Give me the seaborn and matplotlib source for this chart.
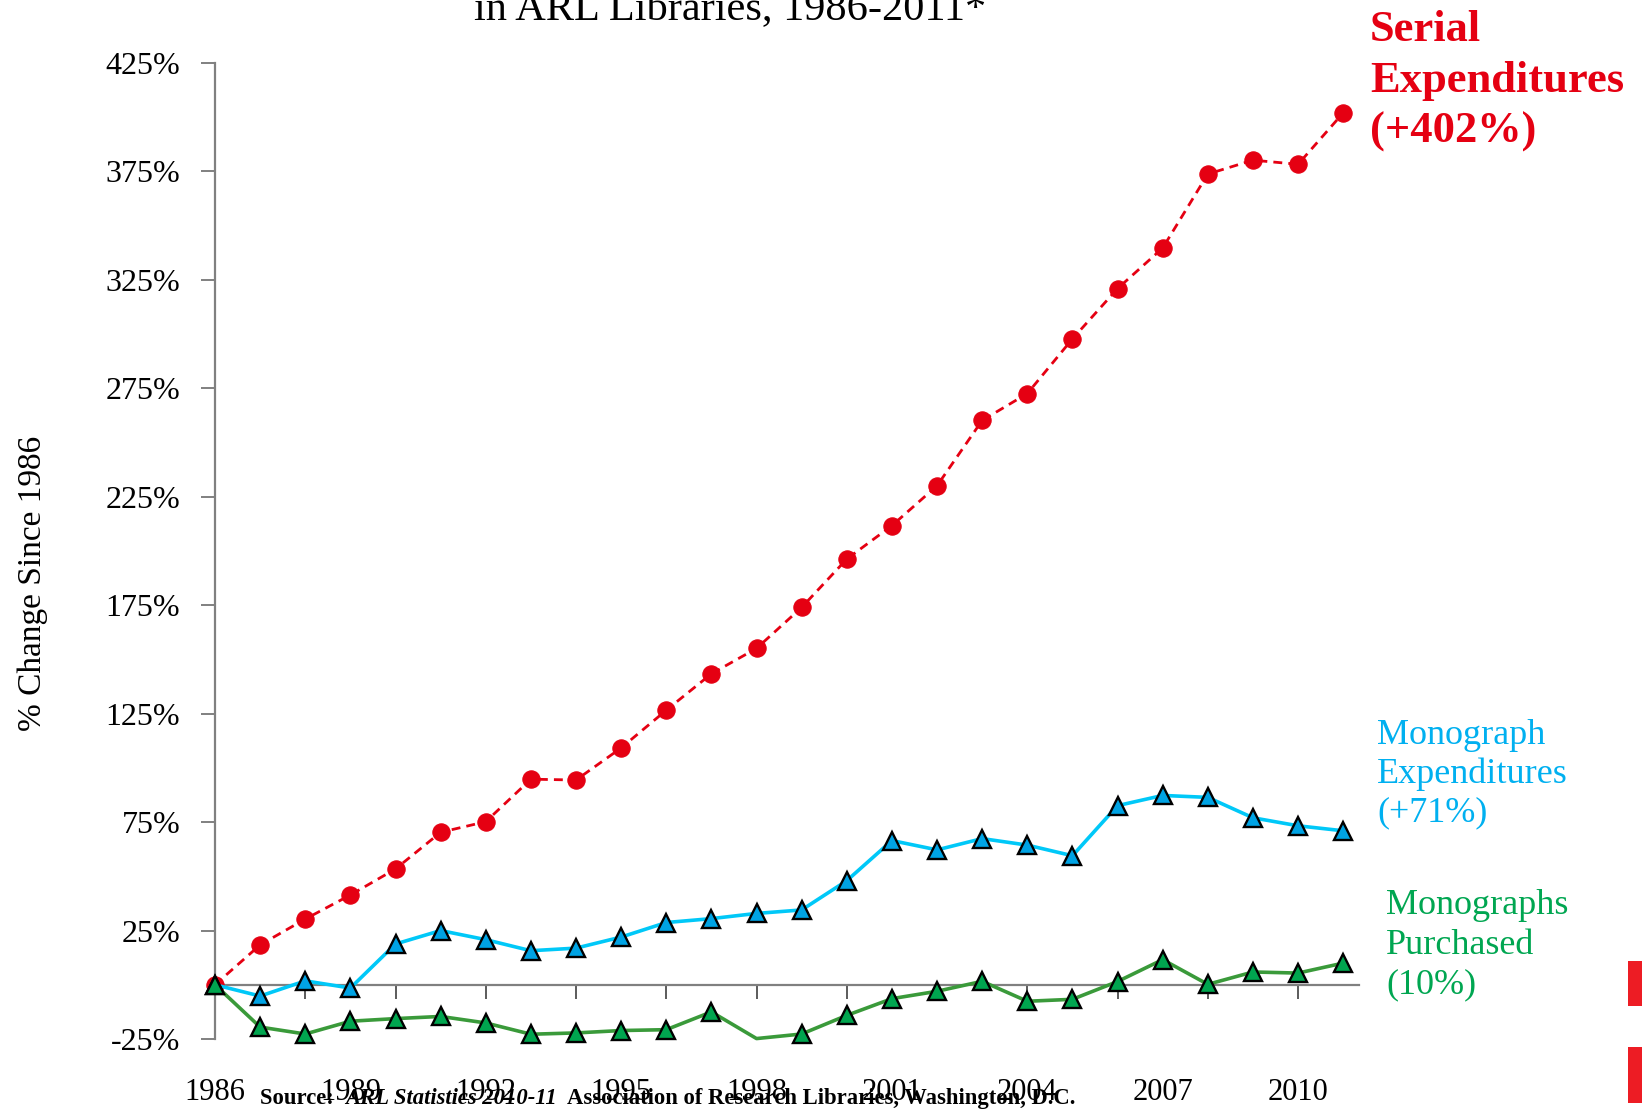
import matplotlib
matplotlib.use("Agg")
import matplotlib.pyplot as plt
import matplotlib.transforms as mtransforms
from matplotlib.patches import Rectangle
import pandas as pd
import seaborn as sns

# Percentage change since 1986, ARL member libraries
years = list(range(1986, 2012))
serial_expenditures = [0, 18.4, 30.3, 41.4, 53.4, 70.3, 75.2, 94.8, 94.4, 109.2,
                       126.6, 143.4, 155.1, 174.0, 196.3, 211.7, 230.1, 260.2,
                       272.6, 297.8, 321.0, 339.7, 373.8, 380.2, 378.3, 402]
monograph_expenditures = [0, -5.2, 1.8, -1.5, 18.8, 25.0, 20.8, 15.7, 16.9, 22.0,
                          28.7, 30.5, 32.9, 34.5, 48.0, 66.5, 62.2, 67.4, 64.4,
                          59.5, 82.6, 87.3, 86.4, 77.0, 73.3, 71]
monographs_purchased = [0, -19.5, -22.7, -16.8, -15.6, -14.6, -17.6, -22.8, -22.2,
                        -21.1, -20.7, -12.5, -24.8, -22.7, -14.1, -6.4, -3.0, 1.6,
                        -7.6, -6.7, 1.5, 11.6, 0.2, 5.9, 5.4, 10]

y_ticks = [-25, 25, 75, 125, 175, 225, 275, 325, 375, 425]
x_label_years = [1986, 1989, 1992, 1995, 1998, 2001, 2004, 2007, 2010]
x_tick_years = list(range(1988, 2011, 2))

title_text = "in ARL Libraries, 1986-2011*"
y_title = "% Change Since 1986"
serial_label = ["Serial", "Expenditures", "(+402%)"]
mono_exp_label = ["Monograph", "Expenditures", "(+71%)"]
mono_pur_label = ["Monographs", "Purchased", "(10%)"]

RED = "#E50012"
CYAN_LINE = "#00C8F8"
BLUE_FILL = "#00A3E4"
GREEN_LINE = "#3A9A3A"
GREEN_FILL = "#00A54F"
GRAY = "#808080"

df = pd.DataFrame({
    "year": years,
    "serial": serial_expenditures,
    "mono_exp": monograph_expenditures,
    "mono_pur": monographs_purchased,
})

sns.set_theme(style="white")
plt.rcParams["font.family"] = ["Liberation Serif", "DejaVu Serif"]

W, H = 1642, 1110
fig = plt.figure(figsize=(W / 100, H / 100), dpi=100)
fig.patch.set_facecolor("white")
left, right, bottom, top = 215 / W, 1359 / W, 1 - 1039 / H, 1 - 63 / H
ax = fig.add_axes([left, bottom, right - left, top - bottom])

sns.lineplot(data=df, x="year", y="serial", ax=ax, color=RED, lw=2.0,
             linestyle=(0, (3.2, 2.2)), marker="o", markersize=12.5,
             markerfacecolor=RED, markeredgecolor=RED, clip_on=False,
             errorbar=None, zorder=3)
sns.lineplot(data=df, x="year", y="mono_exp", ax=ax, color=CYAN_LINE, lw=2.6,
             marker="^", markersize=12.5, markerfacecolor=BLUE_FILL,
             markeredgecolor="black", markeredgewidth=1.7, clip_on=False,
             errorbar=None, zorder=4)
# 1998 has no marker on the purchased series
green_marks = [i for i, y in enumerate(years) if y != 1998]
sns.lineplot(data=df, x="year", y="mono_pur", ax=ax, color=GREEN_LINE, lw=2.6,
             marker="^", markersize=12.5, markerfacecolor=GREEN_FILL,
             markeredgecolor="black", markeredgewidth=1.7, markevery=green_marks,
             clip_on=False, errorbar=None, zorder=5)

ax.set_xlim(1986, 2011.35)
ax.set_ylim(-25, 425)
ax.set_xlabel("")
ax.set_ylabel("")

for side in ["top", "right"]:
    ax.spines[side].set_visible(False)
ax.spines["left"].set_color(GRAY)
ax.spines["left"].set_linewidth(1.6)
ax.spines["bottom"].set_position(("data", 0))
ax.spines["bottom"].set_color(GRAY)
ax.spines["bottom"].set_linewidth(1.6)
ax.spines["bottom"].set_zorder(2)

ax.set_yticks(y_ticks)
ax.set_yticklabels([f"{v}%" for v in y_ticks])
ax.tick_params(axis="y", direction="out", length=10, width=1.4, color=GRAY,
               pad=15, labelsize=23, labelcolor="black", left=True)
ax.set_xticks(x_tick_years)
ax.set_xticklabels([])
ax.tick_params(axis="x", direction="out", length=10, width=1.2, color="#404040",
               bottom=True)
ax.grid(False)

# year labels along the bottom of the figure
bt = mtransforms.blended_transform_factory(ax.transData, fig.transFigure)
for yr in x_label_years:
    ax.text(yr, 1 - 1092 / H, str(yr), transform=bt, ha="center", va="center",
            fontsize=22, color="black", clip_on=False)

fig.text(730 / W, 1 - 19 / H, title_text, ha="center", va="baseline",
         fontsize=30.5, color="black")
fig.text(33 / W, 1 - 583 / H, y_title, rotation=90, ha="center", va="center",
         fontsize=24, color="black")

for i, line in enumerate(serial_label):
    fig.text(1370 / W, 1 - (30 + 51 * i) / H, line, ha="left", va="center",
             fontsize=32, fontweight="bold", color=RED)
for i, line in enumerate(mono_exp_label):
    fig.text(1377 / W, 1 - (736 + 38.5 * i) / H, line, ha="left", va="center",
             fontsize=26, color="#00B0F0")
for i, line in enumerate(mono_pur_label):
    fig.text(1386 / W, 1 - (906 + 39.5 * i) / H, line, ha="left", va="center",
             fontsize=26, color="#00A651")

# source line with italic report name
fig.canvas.draw()
renderer = fig.canvas.get_renderer()
base_y = 1 - 1104 / H
x_px = 260
pieces = [("Source:  ", "normal"), ("ARL Statistics 2010-11", "italic"),
          ("  Association of Research Libraries, Washington, D.C.", "normal")]
for txt, style in pieces:
    t = fig.text(x_px / W, base_y, txt, ha="left", va="baseline", fontsize=16.3,
                 fontweight="bold", fontstyle=style, color="black")
    bb = t.get_window_extent(renderer)
    x_px += bb.width

# red edge markers at the right border
for y0, y1 in [(961, 1006), (1047, 1103)]:
    fig.add_artist(Rectangle((1628 / W, 1 - y1 / H), 14 / W, (y1 - y0) / H,
                             transform=fig.transFigure, facecolor="#ED1C24",
                             edgecolor="none"))

fig.savefig("out.png", dpi=100, facecolor="white")
